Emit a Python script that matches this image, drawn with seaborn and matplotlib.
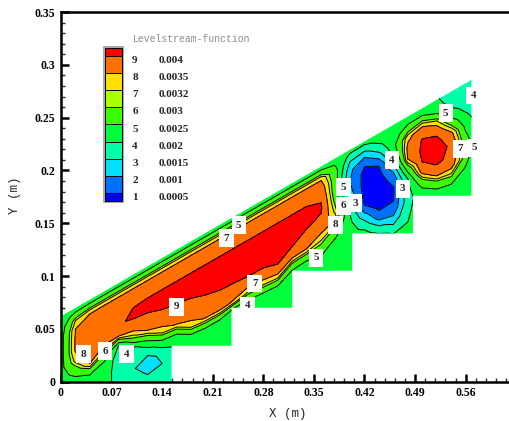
import numpy as np
import matplotlib
matplotlib.use('Agg')
import matplotlib.pyplot as plt
from matplotlib.patches import Polygon, Rectangle
import seaborn as sns

# contour levels of the stream function and their index numbers
level_values = [0.0005, 0.001, 0.0015, 0.002, 0.0025, 0.003, 0.0032, 0.0035, 0.004]
level_ids = ['1', '2', '3', '4', '5', '6', '7', '8', '9']

# stepped cavity under the sloped wall (m)
domain_x = [0.0, 0.153, 0.153, 0.236, 0.236, 0.320, 0.320, 0.403, 0.403, 0.487, 0.487, 0.568, 0.568, 0.0]
domain_y = [0.0, 0.0, 0.034, 0.034, 0.070, 0.070, 0.105, 0.105, 0.1405, 0.1405, 0.176, 0.176, 0.2857, 0.062]
wall_y0 = 0.062
wall_slope = 0.394

# stream function, units of 1e-4
# one list per x column, going down from the sloped wall by grid_depth
grid_x = [0.00, 0.02, 0.04, 0.06, 0.08, 0.10, 0.12, 0.14, 0.16, 0.18,
          0.20, 0.22, 0.24, 0.26, 0.28, 0.30, 0.32, 0.34, 0.36, 0.38,
          0.40, 0.42, 0.44, 0.46, 0.48, 0.50, 0.52, 0.54, 0.56, 0.58]
grid_depth = [0.0, 0.006, 0.012, 0.02, 0.03, 0.04, 0.05, 0.06, 0.07, 0.08, 0.09, 0.10, 0.11, 0.12, 0.13]
psi_cols = [
    [21, 22, 22.5, 23, 23, 23, 23, 22.5, 22, 22, 22, 22, 22, 22, 22],
    [21, 27, 32, 35, 35.5, 35.5, 33, 27, 23, 23, 23, 23, 23, 23, 23],
    [21, 28, 34.5, 37, 38, 38, 37, 35.3, 25.5, 22, 22, 22, 22, 22, 22],
    [21, 28, 34.5, 37.5, 39, 38.5, 35.5, 29, 23, 22, 21.5, 21.5, 21.5, 21.5, 21.5],
    [21, 28, 34.5, 37.5, 39.8, 39.5, 35.5, 19.5, 18, 18, 18.5, 19, 19, 19, 19],
    [21, 28, 34.5, 37.5, 39.9, 40.6, 37.5, 30, 18.5, 15.5, 15.5, 17, 17.5, 17.5, 17.5],
    [21, 28, 34.5, 37.5, 40, 41, 38.5, 35.5, 25.5, 17.5, 12, 14.5, 16.5, 17, 17],
    [21, 28, 34.5, 37.5, 40, 41.7, 39.8, 37, 33, 23, 17, 15, 16, 17, 17.5],
    [21, 28, 34.5, 37.5, 40, 42, 40.3, 37.5, 35.5, 25, 21, 18.5, 18, 18, 18],
    [21, 28, 34.5, 37.5, 40, 42.3, 41, 38.5, 36.5, 33.5, 23, 21, 20.5, 20.5, 20.5],
    [21, 28, 34.5, 37.5, 40, 42.5, 42, 39.7, 37, 35.3, 25, 21.5, 21, 21, 21],
    [21, 28, 34.5, 37.5, 40, 42.5, 42.5, 40.5, 38, 35.8, 25, 22, 21.5, 21, 21],
    [21, 28, 34.5, 37.5, 40, 42.5, 42.5, 41, 37.5, 34.5, 20, 21, 21.5, 21.5, 21.5],
    [21, 28, 34.5, 37.5, 40, 42.5, 42.5, 41.5, 38, 31, 22, 21, 21, 21, 21],
    [21, 28, 34.5, 37.5, 40, 42.5, 42.5, 41.3, 38.5, 32.5, 23.5, 21.5, 21, 21, 21],
    [21, 28, 34.5, 37.5, 40, 42.5, 42.5, 41.5, 39.8, 34, 24.5, 21.5, 21, 21, 21],
    [21, 28, 34.5, 37.5, 40, 42, 41.5, 40, 36, 26, 22, 21.5, 21, 21, 21],
    [21, 28, 34.5, 37.5, 40, 41.5, 40.3, 38, 35, 25.5, 22, 21.5, 21.5, 21.5, 21.5],
    [21, 28, 34.5, 37.3, 39.5, 40.6, 39.2, 36.5, 32, 26.5, 23.5, 22, 21.5, 21.5, 21.5],
    [21, 24.5, 26.5, 27, 27, 28.5, 31, 34, 27, 23.5, 22.5, 22, 21.5, 21.5, 21.5],
    [22, 18.5, 14.5, 11, 10, 11.5, 15.5, 19.7, 21.5, 22, 22, 22, 21.5, 21.5, 21.5],
    [22, 18, 12.5, 6, 3.5, 3, 3.2, 4.7, 11.7, 18.5, 22.5, 22.5, 22, 22, 22],
    [22, 21.5, 19.2, 13.7, 5.3, 3, 2.2, 2.4, 3.5, 8, 17, 23, 22.5, 22, 22],
    [22, 22, 22.5, 23.5, 20, 13, 7, 4.6, 4.5, 6.5, 12.3, 18.5, 23, 22, 22],
    [22, 24, 28, 34, 36, 35.3, 27, 19.5, 18.5, 18, 18.5, 20, 22, 22, 22],
    [22, 24, 30, 37, 40.3, 41, 40.3, 37, 27.5, 23, 25, 25, 25, 24, 24],
    [20.5, 21.5, 24, 32, 38.8, 41.5, 42.5, 40.6, 37, 27, 22.5, 22, 22, 22, 22],
    [17.5, 18, 19, 21.5, 28.5, 36.3, 39, 39.2, 37, 30.5, 23.5, 22, 22, 22, 22],
    [17, 17, 17.5, 18.5, 20.5, 23.5, 26, 28.5, 28, 24.5, 22.5, 22, 22, 22, 22],
    [16, 16, 16.5, 17, 17.5, 18, 19, 18.5, 18, 19, 20.5, 22, 22, 22, 22],
]

# level numbers written on the contour lines
clabel_x = [0.031, 0.061, 0.091, 0.160, 0.229, 0.246, 0.258, 0.268, 0.353, 0.380,
            0.391, 0.391, 0.407, 0.458, 0.473, 0.5325, 0.553, 0.5715, 0.5705]
clabel_y = [0.026, 0.029, 0.026, 0.071, 0.136, 0.148, 0.072, 0.093, 0.1175, 0.1486,
            0.1667, 0.184, 0.169, 0.2095, 0.1826, 0.254, 0.2207, 0.2215, 0.271]
clabel_id = ['8', '6', '4', '9', '7', '5', '4', '7', '5', '8',
             '6', '5', '3', '4', '3', '5', '7', '5', '4']

x_ticks = [0, 0.07, 0.14, 0.21, 0.28, 0.35, 0.42, 0.49, 0.56]
x_tick_labels = ['0', '0.07', '0.14', '0.21', '0.28', '0.35', '0.42', '0.49', '0.56']
y_ticks = [0, 0.05, 0.1, 0.15, 0.2, 0.25, 0.3, 0.35]
y_tick_labels = ['0', '0.05', '0.1', '0.15', '0.2', '0.25', '0.3', '0.35']

sns.set_style('ticks')
plt.rcParams['font.family'] = ['Liberation Serif', 'DejaVu Sans']
mono = ['Liberation Mono', 'DejaVu Sans Mono']

# small rainbow, one colour per band (blue = lowest)
band_colors = sns.blend_palette(['#0000ff', '#00ffff', '#00ff00', '#ffff00', '#ff0000'], 10)

X, D = np.meshgrid(grid_x, [-0.01] + grid_depth)
Y = wall_y0 + wall_slope * X - D
Z = np.array(psi_cols, dtype=float).T * 1e-4
Z = np.vstack([Z[:1], Z])  # pad one row above the wall

fig = plt.figure(figsize=(5.09, 4.21), dpi=100)
ax = fig.add_axes([61 / 509, 39.3 / 421, 448 / 509, 369.7 / 421])

bounds = [-1.0] + level_values + [1.0]
cf = ax.contourf(X, Y, Z, levels=bounds, colors=band_colors)
cl = ax.contour(X, Y, Z, levels=level_values, colors='black', linewidths=0.7)
domain = Polygon(np.column_stack([domain_x, domain_y]), closed=True,
                 facecolor='none', edgecolor='none')
ax.add_patch(domain)
cf.set_clip_path(domain)
cl.set_clip_path(domain)

label_clip = Rectangle((0, 0), 0.5715, 0.35, transform=ax.transData)
for lx, ly, s in zip(clabel_x, clabel_y, clabel_id):
    t = ax.text(lx, ly, s, ha='center', va='center', fontsize=8, fontweight='bold',
                bbox=dict(boxstyle='square,pad=0.4', fc='white', ec='none'), zorder=5)
    t.set_clip_path(label_clip)

ax.set_xlim(0, 0.62)
ax.set_ylim(0, 0.35)
ax.set_xticks(x_ticks, x_tick_labels)
ax.set_yticks(y_ticks, y_tick_labels)
ax.set_xticks(np.arange(0, 0.62, 0.014), minor=True)
ax.set_yticks(np.arange(0, 0.35, 0.01), minor=True)
ax.tick_params(which='major', direction='in', length=6, width=1.8, labelsize=8.5, pad=4,
               colors='black')
ax.tick_params(which='minor', direction='in', length=3, width=1)
for lab in ax.get_xticklabels() + ax.get_yticklabels():
    lab.set_fontweight('bold')
for side in ['left', 'bottom', 'top']:
    ax.spines[side].set_linewidth(1.8)
    ax.spines[side].set_color('black')
ax.spines['right'].set_visible(False)

fig.text(288 / 509, 1 - 414 / 421, 'X (m)', family=mono, fontsize=9,
         ha='center', va='center')
fig.text(15 / 509, 1 - 195 / 421, 'Y (m)', family=mono, fontsize=9,
         ha='center', va='center', rotation=90)

# legend
edges_px = np.concatenate([[48], 56 + 17.125 * np.arange(9), [201]])
fig.add_artist(Rectangle((104 / 509, 1 - 202 / 421), 19 / 509, 155 / 421,
                         transform=fig.transFigure, facecolor='none',
                         edgecolor='#999999', linewidth=1.2))
for i in range(10):
    top_px, bot_px = edges_px[i], edges_px[i + 1]
    fig.add_artist(Rectangle((105 / 509, 1 - bot_px / 421), 17 / 509, (bot_px - top_px) / 421,
                             transform=fig.transFigure, facecolor=band_colors[9 - i],
                             edgecolor='black', linewidth=0.7))
for k in range(9):
    yc = 1 - (edges_px[k + 1] + 4.5) / 421
    fig.text(135 / 509, yc, level_ids[8 - k], ha='center', va='center',
             fontsize=8, fontweight='bold')
    fig.text(159 / 509, yc, f'{level_values[8 - k]:g}', ha='left', va='center',
             fontsize=8, fontweight='bold')
fig.text(133 / 509, 1 - 39 / 421, 'Levelstream-function', family=mono, fontsize=7,
         color='#8a8a8a', ha='left', va='center')

fig.savefig('out.png', dpi=100)
plt.close(fig)
